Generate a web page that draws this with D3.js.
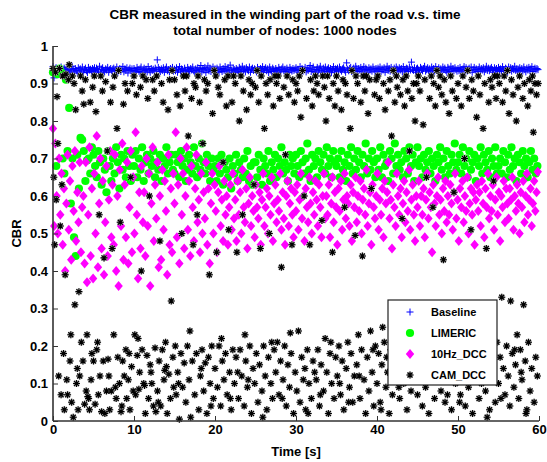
<!DOCTYPE html>
<html><head><meta charset="utf-8">
<script src="https://cdn.jsdelivr.net/npm/d3@7"></script>
<style>
body{margin:0;background:#fff}
svg{display:block}
text{font-family:"Liberation Sans",Arial,Helvetica,sans-serif;font-weight:bold;fill:#000}
</style>
</head><body><div id="chart"></div>
<script>
const titleLines = ["CBR measured in the winding part of the road v.s. time", "total number of nodes: 1000 nodes"];
const xLabel = "Time [s]";
const yLabel = "CBR";
const xTicks = [0, 10, 20, 30, 40, 50, 60];
const yTicks = [0, 0.1, 0.2, 0.3, 0.4, 0.5, 0.6, 0.7, 0.8, 0.9, 1];
const seriesNames = ["Baseline", "LIMERIC", "10Hz_DCC", "CAM_DCC"];

// sampling steps (s) of each logged series
const stepBaseline = 0.125, stepLimeric = 0.2, stepDcc10 = 0.15, stepCam = 0.1;

const baseline = [
.945,.915,.938,.942,.935,.930,.940,.936,.944,.933,.929,.941,.937,.932,.943,.936,.930,.939,.934,.946,
.938,.931,.940,.935,.928,.942,.936,.939,.933,.944,.930,.937,.941,.934,.929,.943,.936,.938,.932,.940,
.936,.942,.930,.941,.937,.933,.946,.929,.938,.942,.935,.931,.939,.936,.943,.930,.937,.940,.934,.938,
.941,.933,.937,.944,.929,.936,.940,.932,.938,.945,.931,.939,.935,.942,.928,.937,.941,.934,.939,.933,
.940,.935,.930,.943,.937,.932,.939,.944,.929,.936,.941,.934,.938,.931,.945,.936,.930,.940,.935,.938,
.933,.941,.936,.963,.943,.937,.932,.939,.935,.942,.930,.938,.944,.934,.937,.931,.940,.936,.943,.933,
.938,.934,.942,.930,.937,.945,.933,.939,.936,.931,.941,.935,.928,.943,.937,.932,.940,.936,.944,.934,
.930,.939,.935,.942,.933,.937,.948,.931,.940,.936,.943,.929,.938,.947,.934,.941,.932,.937,.944,.936,
.939,.933,.941,.936,.930,.944,.937,.932,.940,.935,.945,.931,.938,.942,.934,.949,.936,.930,.941,.937,
.933,.940,.936,.929,.943,.938,.932,.946,.935,.939,.931,.942,.937,.934,.944,.930,.938,.941,.935,.939,
.936,.931,.943,.937,.932,.940,.935,.945,.930,.938,.942,.934,.939,.929,.944,.936,.932,.941,.937,.933,
.940,.935,.930,.943,.937,.931,.939,.944,.934,.938,.932,.941,.936,.929,.943,.937,.933,.940,.935,.938,
.942,.934,.938,.930,.945,.936,.940,.933,.937,.943,.931,.939,.935,.941,.948,.932,.938,.944,.936,.930,
.937,.943,.933,.939,.946,.935,.930,.941,.936,.944,.932,.938,.942,.934,.940,.929,.937,.945,.933,.939,
.935,.941,.931,.944,.937,.933,.939,.942,.936,.930,.955,.938,.934,.940,.943,.932,.937,.941,.935,.946,
.939,.932,.940,.936,.943,.931,.938,.945,.934,.941,.937,.930,.942,.936,.939,.933,.944,.938,.931,.940,
.934,.941,.937,.944,.932,.939,.936,.942,.930,.938,.946,.935,.940,.933,.943,.937,.931,.941,.936,.944,
.938,.933,.942,.936,.940,.931,.945,.937,.934,.941,.939,.932,.944,.936,.957,.938,.935,.942,.930,.939,
.941,.936,.930,.943,.938,.934,.940,.946,.933,.937,.942,.935,.939,.931,.944,.936,.940,.933,.945,.937,
.936,.942,.934,.939,.931,.944,.937,.941,.935,.930,.943,.938,.932,.946,.936,.940,.934,.942,.937,.933,
.940,.934,.943,.937,.931,.939,.945,.936,.942,.933,.938,.941,.935,.944,.930,.937,.943,.936,.939,.932,
.937,.944,.933,.940,.936,.942,.931,.938,.946,.935,.941,.934,.939,.943,.937,.930,.942,.936,.940,.934,
.943,.936,.939,.932,.945,.937,.934,.941,.938,.930,.944,.936,.942,.933,.940,.937,.946,.935,.939,.931,
.938,.942,.935,.940,.933,.944,.937,.931,.941,.936,.943,.934,.939,.945,.932,.938,.941,.936,.940,.937];

const limeric = [
.93,.935,.68,.925,.94,.93,.70,.66,.91,.72,.835,.58,.70,.49,.44,.71,.62,.755,.75,.72,.64,.695,.70,.66,.73,
.71,.68,.65,.72,.69,.63,.70,.67,.61,.72,.68,.64,.70,.66,.73,.69,.62,.71,.67,.70,.65,.72,.68,.64,.71,
.68,.72,.65,.70,.67,.73,.64,.69,.71,.66,.70,.68,.72,.65,.69,.67,.71,.64,.70,.68,.73,.66,.69,.71,.67,
.66,.71,.69,.65,.72,.68,.70,.64,.67,.71,.69,.66,.73,.68,.65,.70,.67,.74,.69,.66,.71,.68,.64,.70,.67,
.68,.64,.70,.66,.71,.63,.69,.67,.65,.70,.62,.68,.66,.71,.64,.69,.67,.65,.70,.66,.72,.64,.68,.63,.69,
.69,.65,.71,.67,.63,.70,.68,.66,.72,.64,.69,.67,.71,.65,.70,.68,.73,.66,.69,.67,.64,.71,.68,.70,.66,
.71,.68,.65,.72,.69,.66,.70,.74,.67,.64,.71,.68,.70,.65,.72,.69,.67,.71,.66,.73,.68,.70,.65,.72,.69,
.68,.70,.65,.72,.67,.69,.64,.71,.68,.73,.66,.70,.67,.72,.69,.65,.71,.68,.74,.66,.70,.67,.72,.69,.65,
.70,.67,.73,.65,.71,.68,.69,.64,.72,.70,.66,.74,.68,.71,.67,.69,.65,.72,.70,.66,.73,.68,.71,.64,.69,
.73,.68,.70,.65,.71,.67,.69,.72,.66,.70,.68,.64,.71,.69,.73,.67,.70,.65,.72,.68,.66,.71,.69,.74,.67,
.69,.71,.66,.73,.68,.70,.65,.72,.67,.69,.71,.64,.70,.68,.73,.66,.71,.69,.67,.72,.65,.70,.68,.73,.66,
.68,.70,.66,.72,.69,.65,.71,.67,.73,.68,.70,.64,.71,.69,.66,.72,.68,.70,.65,.69,.72,.67,.70,.66,.68];

const dcc10 = [
.78,.52,.74,.60,.50,.70,.55,.66,.47,.62,.40,.58,.71,.51,.64,.43,.68,.56,.72,.48,.61,.53,.69,.45,.57,
.60,.42,.69,.37,.55,.73,.44,.62,.38,.66,.50,.76,.41,.58,.70,.46,.64,.39,.53,.68,.44,.59,.72,.49,.63,
.47,.71,.40,.60,.36,.67,.52,.74,.43,.63,.49,.69,.42,.57,.72,.45,.65,.50,.77,.55,.38,.61,.46,.68,.53,
.61,.44,.70,.52,.66,.36,.58,.73,.48,.63,.54,.69,.41,.60,.43,.67,.51,.64,.56,.39,.71,.47,.62,.45,.66,
.58,.77,.49,.63,.42,.70,.55,.66,.46,.60,.73,.51,.64,.44,.68,.57,.48,.62,.71,.53,.59,.45,.66,.50,.61,
.54,.69,.47,.62,.42,.58,.66,.50,.63,.56,.45,.61,.68,.52,.59,.48,.64,.55,.60,.47,.57,.63,.51,.66,.54,
.59,.48,.64,.55,.61,.50,.67,.57,.53,.62,.46,.58,.65,.52,.60,.56,.49,.63,.57,.54,.61,.47,.59,.66,.52,
.57,.62,.50,.60,.55,.65,.48,.58,.63,.53,.59,.56,.66,.51,.61,.54,.47,.60,.64,.52,.58,.62,.55,.49,.61,
.56,.63,.51,.59,.66,.54,.60,.48,.62,.57,.53,.65,.58,.50,.61,.55,.64,.59,.52,.63,.57,.49,.60,.66,.54,
.60,.55,.63,.49,.58,.65,.53,.61,.57,.47,.62,.56,.64,.51,.59,.66,.54,.60,.58,.52,.63,.48,.61,.57,.65,
.53,.60,.56,.64,.50,.59,.62,.55,.67,.52,.58,.61,.47,.63,.57,.54,.60,.66,.51,.59,.55,.62,.49,.64,.58,
.61,.69,.54,.59,.46,.63,.57,.52,.66,.60,.55,.62,.49,.58,.64,.53,.61,.56,.67,.51,.59,.63,.55,.48,.60,
.57,.64,.52,.60,.55,.62,.49,.59,.66,.54,.61,.57,.45,.63,.58,.52,.60,.65,.55,.59,.50,.62,.56,.64,.53,
.60,.55,.63,.58,.51,.61,.66,.54,.59,.48,.62,.57,.64,.53,.60,.56,.65,.50,.58,.62,.55,.61,.47,.59,.63,
.56,.61,.52,.64,.58,.49,.62,.57,.66,.54,.60,.56,.63,.51,.59,.65,.55,.61,.48,.60,.57,.64,.53,.62,.58,
.54,.62,.59,.65,.51,.60,.56,.63,.58,.50,.61,.57,.64,.53,.60,.66,.55,.59,.62,.52,.58,.64,.56,.61,.665];

const camDcc = [
.94,.65,.47,.93,.59,.865,.74,.12,.94,.52,.07,.63,.92,.18,.03,.39,.925,.11,.07,.91,.95,.16,.23,.05,.92,
.01,.90,.31,.83,.10,.14,.03,.345,.12,.92,.21,.88,.16,.845,.045,.91,.08,.23,.065,.06,.03,.85,.11,.18,.89,
.16,.92,.045,.825,.19,.21,.07,.55,.12,.92,.025,.88,.16,.435,.02,.905,.08,.72,.165,.12,.03,.85,.08,.46,.89,
.23,.92,.09,.06,.78,.17,.935,.10,.53,.025,.04,.16,.845,.12,.90,.19,.06,.88,.11,.18,.03,.65,.145,.90,.08,
.92,.23,.07,.87,.175,.22,.085,.13,.89,.40,.19,.92,.10,.095,.02,.91,.175,.86,.06,.60,.15,.13,.10,.91,.04,
.88,.195,.025,.92,.08,.05,.16,.48,.04,.90,.19,.85,.11,.135,.21,.145,.02,.83,.125,.91,.06,.32,.935,.17,.09,
.91,.20,.07,.87,.13,.10,.005,.84,.18,.50,.09,.92,.155,.88,.05,.92,.20,.76,.11,.24,.01,.86,.16,.47,.90,
.07,.89,.18,.55,.92,.03,.85,.12,.14,.19,.74,.08,.91,.155,.88,.02,.90,.17,.39,.10,.04,.20,.82,.06,.935,
.14,.92,.45,.09,.89,.20,.87,.04,.22,.16,.69,.11,.91,.18,.84,.07,.92,.51,.13,.06,.03,.85,.19,.92,.10,
.90,.17,.45,.13,.06,.80,.19,.92,.12,.55,.88,.04,.23,.16,.83,.09,.11,.91,.20,.87,.02,.90,.14,.63,.10,
.89,.18,.935,.05,.85,.15,.46,.92,.08,.01,.20,.78,.12,.90,.03,.87,.17,.50,.91,.10,.21,.06,.84,.19,.92,
.13,.90,.21,.92,.07,.86,.16,.41,.06,.11,.89,.20,.71,.04,.92,.15,.87,.09,.235,.18,.47,.91,.02,.85,.13,
.90,.08,.88,.24,.92,.05,.81,.17,.935,.11,.60,.14,.03,.86,.19,.02,.10,.47,.91,.06,.84,.16,.88,.13,.92,
.11,.90,.19,.87,.04,.07,.15,.535,.92,.08,.89,.22,.80,.13,.92,.02,.86,.18,.21,.10,.45,.90,.06,.84,.17,
.92,.12,.88,.20,.10,.07,.83,.16,.91,.03,.57,.90,.14,.87,.21,.05,.09,.78,.18,.935,.05,.86,.12,.495,.92,
.15,.90,.23,.12,.06,.85,.19,.44,.92,.11,.88,.02,.92,.17,.82,.08,.91,.24,.62,.13,.19,.04,.87,.20,.91,
.10,.92,.18,.86,.05,.03,.15,.25,.90,.21,.83,.09,.17,.13,.88,.02,.91,.19,.76,.07,.935,.16,.85,.12,.92,
.89,.20,.09,.06,.87,.14,.54,.91,.10,.84,.22,.92,.03,.88,.17,.72,.20,.08,.86,.19,.90,.11,.80,.15,.90,
.07,.92,.18,.88,.12,.11,.04,.79,.21,.91,.09,.65,.16,.15,.02,.86,.14,.92,.23,.57,.90,.06,.84,.19,.935,
.13,.89,.22,.92,.08,.87,.17,.43,.91,.05,.85,.20,.07,.11,.82,.15,.92,.03,.88,.18,.61,.13,.10,.86,.21,
.90,.15,.05,.07,.84,.19,.92,.12,.70,.04,.89,.23,.935,.09,.86,.17,.51,.91,.02,.88,.14,.16,.20,.81,.11,
.92,.06,.87,.18,.10,.13,.78,.22,.90,.08,.46,.01,.16,.85,.03,.91,.19,.89,.11,.64,.92,.05,.86,.21,.92,
.10,.90,.17,.06,.33,.85,.14,.92,.07,.88,.20,.935,.12,.82,.04,.32,.91,.18,.87,.09,.19,.15,.80,.23,.89,
.06,.92,.19,.13,.11,.86,.31,.90,.16,.02,.03,.84,.21,.91,.08,.88,.14,.92,.77,.05,.90,.17,.87,.12,.90];

const W = 547, H = 462;
const margin = {left: 53, right: 8, top: 46, bottom: 41};

const svg = d3.select("#chart").append("svg").attr("width", W).attr("height", H);
svg.append("rect").attr("width", W).attr("height", H).attr("fill", "#fff");

const x = d3.scaleLinear().domain([0, 60]).range([margin.left, W - margin.right]);
const y = d3.scaleLinear().domain([0, 1]).range([H - margin.bottom, margin.top]);

const plusPath = "M-3.5,0H3.5M0,-3.5V3.5";
const astPath = "M-3.5,0H3.5M0,-3.5V3.5M-2.5,-2.5L2.5,2.5M-2.5,2.5L2.5,-2.5";
const diamondPath = "M0,-5L4.2,0L0,5L-4.2,0Z";

const gData = svg.append("g");

gData.append("g").selectAll("path").data(baseline).join("path")
  .attr("d", plusPath)
  .attr("transform", (d, i) => `translate(${x(i * stepBaseline)},${y(d)})`)
  .attr("fill", "none").attr("stroke", "#0000ff").attr("stroke-width", 1);

gData.append("g").selectAll("circle").data(limeric).join("circle")
  .attr("cx", (d, i) => x(i * stepLimeric)).attr("cy", d => y(d)).attr("r", 4.1)
  .attr("fill", "#00ff00");

gData.append("g").selectAll("path").data(dcc10).join("path")
  .attr("d", diamondPath)
  .attr("transform", (d, i) => `translate(${x(i * stepDcc10)},${y(d)})`)
  .attr("fill", "#ff00ff");

const camG = gData.append("g");
camG.selectAll("path.h").data(camDcc).join("path").attr("class", "h")
  .attr("d", astPath)
  .attr("transform", (d, i) => `translate(${x(i * stepCam)},${y(d)})`)
  .attr("fill", "none").attr("stroke", "#bbb").attr("stroke-width", 2);
camG.selectAll("path.s").data(camDcc).join("path").attr("class", "s")
  .attr("d", astPath)
  .attr("transform", (d, i) => `translate(${x(i * stepCam)},${y(d)})`)
  .attr("fill", "none").attr("stroke", "#000").attr("stroke-width", 1.1);

// axes
const xAxis = d3.axisBottom(x).tickValues(xTicks).tickSize(-5).tickPadding(4).tickFormat(d3.format("d"));
const yAxis = d3.axisLeft(y).tickValues(yTicks).tickSize(-5).tickPadding(5).tickFormat(d => d === 0 ? "0" : d === 1 ? "1" : d3.format(".1f")(d));

const gx = svg.append("g").attr("transform", `translate(0,${H - margin.bottom})`).call(xAxis);
const gy = svg.append("g").attr("transform", `translate(${margin.left},0)`).call(yAxis);
[gx, gy].forEach(g => {
  g.select(".domain").attr("stroke", "#333").attr("stroke-width", 1.6);
  g.selectAll(".tick line").attr("stroke", "#333").attr("stroke-width", 1);
  g.selectAll(".tick text").style("font-size", "13px").style("font-family", "'Liberation Sans',Arial,sans-serif").style("font-weight", "bold").attr("fill", "#000");
});
gx.select(".domain").attr("d", `M${x(0)},0H${x(60)}`);
gy.select(".domain").attr("d", `M0,${y(0)}V${y(1)}`);

// titles
svg.append("g").selectAll("text").data(titleLines).join("text")
  .attr("x", 285).attr("y", (d, i) => 19 + i * 16)
  .attr("text-anchor", "middle").style("font-size", "13.5px").text(d => d);

svg.append("text").attr("x", 296).attr("y", 456).attr("text-anchor", "middle")
  .style("font-size", "13px").text(xLabel);
svg.append("text").attr("transform", `translate(21,${y(0.5)}) rotate(-90)`).attr("text-anchor", "middle")
  .style("font-size", "13px").text(yLabel);

// legend
const lg = svg.append("g").attr("transform", "translate(388,300)");
lg.append("rect").attr("width", 109).attr("height", 85).attr("fill", "#fff")
  .attr("stroke", "#222").attr("stroke-width", 1.2);
const rows = lg.selectAll("g.row").data(seriesNames).join("g").attr("class", "row")
  .attr("transform", (d, i) => `translate(0,${12 + i * 21})`);
rows.append("text").attr("x", 43).attr("y", 4).style("font-size", "11px").text(d => d);
rows.each(function(d, i) {
  const g = d3.select(this);
  if (i === 0) g.append("path").attr("d", plusPath).attr("transform", "translate(22,0)").attr("fill", "none").attr("stroke", "#0000ff");
  if (i === 1) g.append("circle").attr("cx", 22).attr("r", 4.1).attr("fill", "#00ff00");
  if (i === 2) g.append("path").attr("d", diamondPath).attr("transform", "translate(22,0)").attr("fill", "#ff00ff");
  if (i === 3) {
    g.append("path").attr("d", astPath).attr("transform", "translate(22,0)").attr("fill", "none").attr("stroke", "#bbb").attr("stroke-width", 2);
    g.append("path").attr("d", astPath).attr("transform", "translate(22,0)").attr("fill", "none").attr("stroke", "#000").attr("stroke-width", 1.1);
  }
});
</script>
</body></html>
